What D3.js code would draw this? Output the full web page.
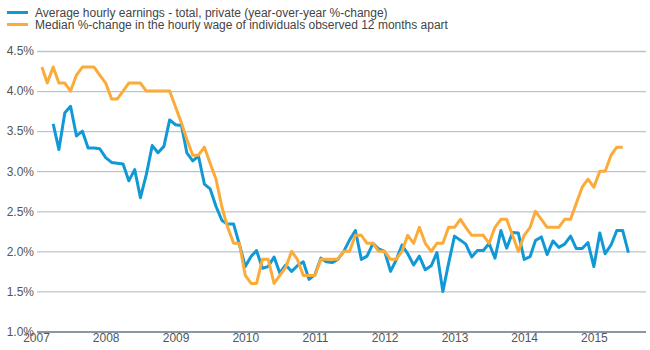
<!DOCTYPE html>
<html>
<head>
<meta charset="utf-8">
<script src="https://cdn.jsdelivr.net/npm/d3@7"></script>
<style>
    body { margin: 0; background: #fff; }
    svg { font-family: "Liberation Sans", Arial, sans-serif; }
</style>
</head>
<body>
<div id="chart"></div>
<script>

// Series labels
const seriesNames = [
    "Average hourly earnings - total, private (year-over-year %-change)",
    "Median %-change in the hourly wage of individuals observed 12 months apart"
];

// Average hourly earnings, monthly from Apr 2007
const earningsStart = "2007-04";
const earningsValues = [
    3.59, 3.27, 3.73, 3.81, 3.44, 3.50, 3.29, 3.29, 3.28,
    3.17, 3.11, 3.10, 3.09, 2.88, 3.02, 2.67, 2.96, 3.32, 3.23, 3.31, 3.64,
    3.58, 3.57, 3.23, 3.13, 3.19, 2.84, 2.78, 2.56, 2.385, 2.34, 2.34, 2.09,
    1.81, 1.94, 2.01, 1.79, 1.81, 1.93, 1.73, 1.83, 1.75, 1.82, 1.87, 1.65,
    1.71, 1.915, 1.87, 1.86, 1.90, 2.00, 2.14, 2.26, 1.90, 1.94, 2.10, 2.03,
    2.00, 1.75, 1.89, 2.08, 1.97, 1.83, 1.94, 1.77, 1.82, 1.985, 1.50, 1.85,
    2.19, 2.14, 2.09, 1.93, 2.01, 2.01, 2.10, 1.915, 2.26, 2.04, 2.235, 2.23,
    1.90, 1.935, 2.135, 2.18, 1.96, 2.13, 2.05, 2.09, 2.19, 2.035, 2.035, 2.11,
    1.81, 2.23, 1.97, 2.08, 2.26, 2.26, 1.985
];

// Median wage change, monthly from Feb 2007
const medianStart = "2007-02";
const medianValues = [
    4.3, 4.1, 4.3, 4.1, 4.1, 4.0, 4.2, 4.3, 4.3, 4.3, 4.2,
    4.1, 3.9, 3.9, 4.0, 4.1, 4.1, 4.1, 4.0, 4.0, 4.0, 4.0, 4.0,
    3.8, 3.6, 3.4, 3.2, 3.2, 3.3, 3.1, 2.9, 2.55, 2.3, 2.1, 2.1,
    1.7, 1.6, 1.6, 1.9, 1.9, 1.6, 1.7, 1.8, 2.0, 1.9, 1.7, 1.7,
    1.7, 1.9, 1.9, 1.9, 1.9, 2.0, 2.0, 2.2, 2.2, 2.1, 2.1, 2.0,
    2.0, 1.9, 1.9, 2.0, 2.2, 2.1, 2.3, 2.1, 2.0, 2.1, 2.1, 2.3,
    2.3, 2.4, 2.3, 2.2, 2.2, 2.2, 2.1, 2.3, 2.4, 2.4, 2.2, 2.0,
    2.2, 2.3, 2.5, 2.4, 2.3, 2.3, 2.3, 2.4, 2.4, 2.6, 2.8, 2.9,
    2.8, 3.0, 3.0, 3.2, 3.3, 3.3
];

const yTicks = [1.0, 1.5, 2.0, 2.5, 3.0, 3.5, 4.0, 4.5];
const colours = ["#1199d6", "#fbab3a"];

const width = 650, height = 350;
const plot = { left: 36, right: 646, top: 51, bottom: 331.5 };

const parseMonth = d3.timeParse("%Y-%m");

// Turn a start month and a list of values into dated points
function monthly(start, values) {
    const first = parseMonth(start);
    return values.map((v, i) => ({ date: d3.timeMonth.offset(first, i), value: v }));
}

const series = [monthly(earningsStart, earningsValues), monthly(medianStart, medianValues)];

const svg = d3.select("#chart")
    .append("svg")
    .attr("width", width)
    .attr("height", height);

const x = d3.scaleTime()
    .domain([new Date(2007, 0, 1), new Date(2015, 9, 1)])
    .range([plot.left, plot.right]);

const y = d3.scaleLinear()
    .domain([1, 4.5])
    .range([plot.bottom, plot.top]);

// Y axis with gridlines
const yAxis = svg.append("g")
    .attr("transform", `translate(${plot.left + 1}, 0)`)
    .call(d3.axisLeft(y)
        .tickValues(yTicks)
        .tickSize(-(plot.right - plot.left - 1))
        .tickPadding(3)
        .tickFormat((d) => d.toFixed(1) + "%"));
yAxis.select(".domain").remove();
yAxis.selectAll("line")
    .attr("stroke", "#b9c5cd")
    .attr("stroke-width", 1.3);
yAxis.selectAll("line")
    .filter((d) => d === 1)
    .attr("stroke", "#8a98a3")
    .attr("stroke-width", 2.2);
yAxis.selectAll("text")
    .attr("fill", "#555")
    .style("font-size", "12px");

// X axis
const xAxis = svg.append("g")
    .attr("transform", `translate(0, ${plot.bottom})`)
    .call(d3.axisBottom(x)
        .ticks(d3.timeYear.every(1))
        .tickSize(0)
        .tickPadding(2)
        .tickFormat(d3.timeFormat("%Y")));
xAxis.select(".domain").remove();
xAxis.selectAll("text")
    .attr("fill", "#555")
    .style("font-size", "12px");

// Lines
const line = d3.line()
    .x((d) => x(d.date))
    .y((d) => y(d.value));

svg.selectAll(".series")
    .data(series)
    .enter()
    .append("path")
    .attr("class", "series")
    .attr("d", line)
    .attr("fill", "none")
    .attr("stroke", (d, i) => colours[i])
    .attr("stroke-width", 3)
    .attr("stroke-linejoin", "round");

// Legend
const legend = svg.append("g");
seriesNames.forEach((name, i) => {
    const ly = 12.5 + i * 12;
    legend.append("line")
        .attr("x1", 7).attr("x2", 28)
        .attr("y1", ly).attr("y2", ly)
        .attr("stroke", colours[i])
        .attr("stroke-width", 3);
    legend.append("text")
        .attr("x", 35)
        .attr("y", ly)
        .attr("dy", "0.35em")
        .attr("fill", "#444")
        .style("font-size", "12px")
        .text(name);
});

</script>
</body>
</html>
